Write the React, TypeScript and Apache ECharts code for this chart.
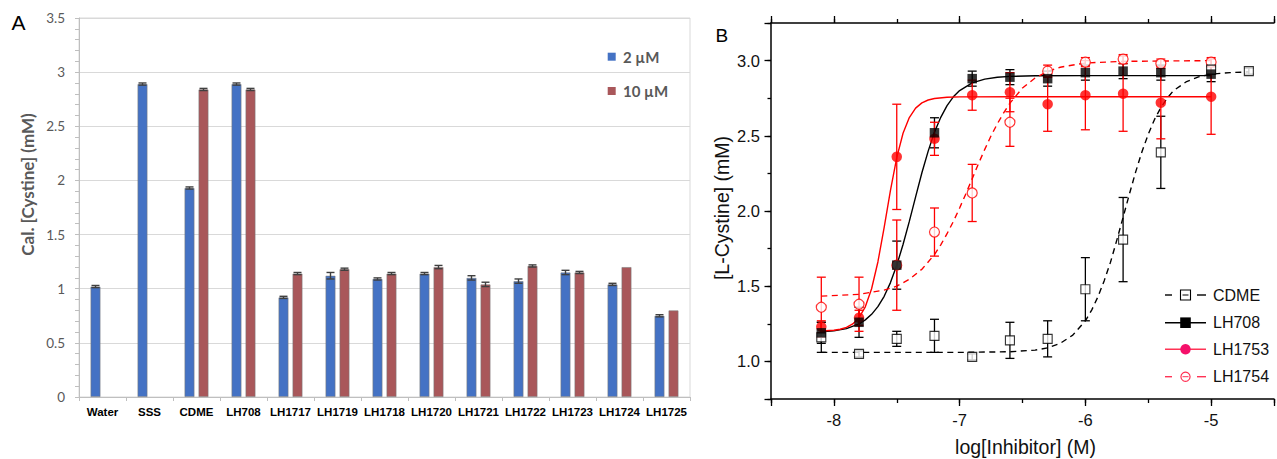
import React, { useEffect, useRef } from 'react';
import * as echarts from 'echarts';

// ---------- Panel A data ----------
const categories = ['Water', 'SSS', 'CDME', 'LH708', 'LH1717', 'LH1719', 'LH1718', 'LH1720', 'LH1721', 'LH1722', 'LH1723', 'LH1724', 'LH1725'];
const conc2uM = [1.02, 2.89, 1.93, 2.89, 0.92, 1.12, 1.09, 1.14, 1.10, 1.07, 1.15, 1.04, 0.75];
const err2uM = [0.01, 0.01, 0.01, 0.01, 0.01, 0.03, 0.01, 0.01, 0.02, 0.02, 0.02, 0.01, 0.01];
const conc10uM = [null, null, 2.84, 2.84, 1.14, 1.18, 1.14, 1.20, 1.04, 1.21, 1.15, 1.20, 0.80];
const err10uM = [null, null, 0.01, 0.01, 0.01, 0.01, 0.01, 0.015, 0.02, 0.01, 0.01, 0, 0];
const yTicksA = { min: 0, max: 3.5, step: 0.5 };

// ---------- Panel B data ----------
const logDose = [-8.1, -7.8, -7.5, -7.2, -6.9, -6.6, -6.3, -6.0, -5.7, -5.4, -5.0];
const cdmeDose = [-8.1, -7.8, -7.5, -7.2, -6.9, -6.6, -6.3, -6.0, -5.7, -5.4, -5.0, -4.7];
const cdmeMean = [1.16, 1.05, 1.15, 1.17, 1.03, 1.14, 1.15, 1.48, 1.81, 2.39, 2.94, 2.93];
const cdmeSd = [0.10, 0.02, 0.05, 0.11, 0.02, 0.12, 0.12, 0.21, 0.28, 0.24, 0.03, 0.02];
const lh708Mean = [1.19, 1.26, 1.64, 2.52, 2.88, 2.89, 2.88, 2.92, 2.93, 2.92, 2.91];
const lh708Sd = [0.07, 0.10, 0.16, 0.10, 0.05, 0.05, 0.05, 0.05, 0.05, 0.05, 0.05];
const lh1753Mean = [1.23, 1.29, 2.36, 2.48, 2.77, 2.79, 2.71, 2.77, 2.78, 2.72, 2.76];
const lh1753Sd = [0.04, 0.05, 0.35, 0.11, 0.10, 0.13, 0.18, 0.23, 0.25, 0.24, 0.25];
const lh1754Mean = [1.36, 1.38, 1.64, 1.86, 2.12, 2.59, 2.93, 2.99, 3.01, 2.98, 2.99];
const lh1754Sd = [0.20, 0.18, 0.30, 0.16, 0.19, 0.16, 0.04, 0.03, 0.03, 0.03, 0.03];

// fitted curves
const cdmeFitX = [-8.1, -7.5, -7.0, -6.6, -6.4, -6.3, -6.2, -6.1, -6.0, -5.95, -5.9, -5.85, -5.8, -5.75, -5.7, -5.65, -5.6, -5.55, -5.5, -5.45, -5.4, -5.35, -5.3, -5.2, -5.1, -5.0, -4.85, -4.7];
const cdmeFitY = [1.06, 1.06, 1.06, 1.064, 1.075, 1.09, 1.12, 1.175, 1.27, 1.341, 1.43, 1.537, 1.66, 1.806, 1.958, 2.112, 2.26, 2.394, 2.51, 2.609, 2.687, 2.749, 2.80, 2.858, 2.892, 2.91, 2.92, 2.925];
const lh708FitX = [-8.1, -8.0, -7.9, -7.8, -7.75, -7.7, -7.65, -7.6, -7.55, -7.5, -7.45, -7.4, -7.35, -7.3, -7.25, -7.2, -7.15, -7.1, -7.05, -7.0, -6.9, -6.8, -6.7, -6.6, -6.4, -6.0, -5.5, -5.0];
const lh708FitY = [1.196, 1.203, 1.218, 1.249, 1.276, 1.313, 1.364, 1.433, 1.524, 1.639, 1.777, 1.931, 2.094, 2.254, 2.398, 2.523, 2.623, 2.701, 2.759, 2.801, 2.852, 2.877, 2.889, 2.895, 2.899, 2.90, 2.90, 2.90];
const lh1753FitX = [-8.1, -8.0, -7.95, -7.9, -7.85, -7.8, -7.75, -7.7, -7.65, -7.6, -7.55, -7.5, -7.45, -7.4, -7.35, -7.3, -7.25, -7.2, -7.1, -7.0, -6.5, -5.0];
const lh1753FitY = [1.202, 1.207, 1.214, 1.226, 1.249, 1.291, 1.363, 1.483, 1.661, 1.891, 2.137, 2.355, 2.517, 2.621, 2.684, 2.719, 2.738, 2.748, 2.756, 2.759, 2.76, 2.76];
const lh1754FitX = [-8.1, -7.8, -7.6, -7.5, -7.4, -7.3, -7.2, -7.15, -7.1, -7.05, -7.0, -6.95, -6.9, -6.85, -6.8, -6.75, -6.7, -6.65, -6.6, -6.5, -6.4, -6.3, -6.2, -6.0, -5.7, -5.0];
const lh1754FitY = [1.434, 1.446, 1.474, 1.50, 1.546, 1.613, 1.71, 1.775, 1.849, 1.93, 2.02, 2.115, 2.215, 2.315, 2.41, 2.50, 2.58, 2.652, 2.717, 2.818, 2.884, 2.928, 2.956, 2.984, 2.995, 3.0];

const BLUE = '#4472C4';
const MAROON = '#A9575A';
const RED = '#FF0000';
const BLACK = '#000000';
const ARIAL = "'Liberation Sans', Arial, sans-serif";
const CAL = "Lato, 'Open Sans', sans-serif";

const zip = (xs: number[], ys: number[]) => xs.map((x, i) => [x, ys[i]]);
const zip3 = (xs: number[], ys: number[], es: number[]) => xs.map((x, i) => [x, ys[i], es[i]]);

function barErr(offset: number) {
  return (params: any, api: any) => {
    const c = api.value(0);
    const v = api.value(1);
    const e = api.value(2);
    if (!(e > 0)) return null;
    const hi = api.coord([c, v + e]);
    const lo = api.coord([c, v - e]);
    const x = hi[0] + offset;
    const st = { stroke: '#404040', lineWidth: 1.4, fill: 'none' };
    return {
      type: 'group',
      children: [
        { type: 'line', shape: { x1: x, y1: hi[1], x2: x, y2: lo[1] }, style: st },
        { type: 'line', shape: { x1: x - 4, y1: hi[1], x2: x + 4, y2: hi[1] }, style: st },
        { type: 'line', shape: { x1: x - 4, y1: lo[1], x2: x + 4, y2: lo[1] }, style: st },
      ],
    };
  };
}

function doseErr(color: string) {
  return (params: any, api: any) => {
    const x = api.value(0);
    const v = api.value(1);
    const e = api.value(2);
    const hi = api.coord([x, v + e]);
    const lo = api.coord([x, v - e]);
    const st = { stroke: color, lineWidth: 1.3, fill: 'none' };
    return {
      type: 'group',
      children: [
        { type: 'line', shape: { x1: hi[0], y1: hi[1], x2: lo[0], y2: lo[1] }, style: st },
        { type: 'line', shape: { x1: hi[0] - 4.5, y1: hi[1], x2: hi[0] + 4.5, y2: hi[1] }, style: st },
        { type: 'line', shape: { x1: lo[0] - 4.5, y1: lo[1], x2: lo[0] + 4.5, y2: lo[1] }, style: st },
      ],
    };
  };
}

const isInt = (v: number) => Math.abs(v - Math.round(v)) < 1e-6;
const isHalf = (v: number) => Math.abs(v * 2 - Math.round(v * 2)) < 1e-6;

function txt(text: string, x: number, y: number, font: any, extra: any = {}) {
  return {
    type: 'text',
    x,
    y,
    rotation: extra.rotation || 0,
    style: {
      text,
      fill: font.fill || '#000',
      fontSize: font.size,
      fontWeight: font.weight || 'normal',
      fontFamily: font.family,
      align: extra.align || 'left',
      textAlign: extra.align || 'left',
      verticalAlign: 'middle',
      textVerticalAlign: 'middle',
    },
  };
}

function buildOption() {
  const bAxisLine = { show: true, onZero: false, lineStyle: { color: BLACK, width: 1.5 } };
  const tickStyle = { color: BLACK, width: 1.3 };

  const legendB: any[] = [];
  const lx1 = 1165, lx2 = 1206, mx = 1185.5, tx = 1213;
  const rows = [295, 322.7, 349.3, 376.7];
  // CDME
  legendB.push({ type: 'line', shape: { x1: lx1, y1: rows[0], x2: lx1 + 7, y2: rows[0] }, style: { stroke: BLACK, lineWidth: 1.4 } });
  legendB.push({ type: 'line', shape: { x1: lx2 - 9, y1: rows[0], x2: lx2, y2: rows[0] }, style: { stroke: BLACK, lineWidth: 1.4 } });
  legendB.push({ type: 'rect', shape: { x: mx - 5, y: rows[0] - 5, width: 10, height: 10 }, style: { fill: '#fff', stroke: BLACK, lineWidth: 1.1 } });
  legendB.push({ type: 'line', shape: { x1: mx - 3, y1: rows[0], x2: mx + 3, y2: rows[0] }, style: { stroke: BLACK, lineWidth: 1 } });
  // LH708
  legendB.push({ type: 'line', shape: { x1: lx1, y1: rows[1], x2: lx2, y2: rows[1] }, style: { stroke: BLACK, lineWidth: 1.4 } });
  legendB.push({ type: 'rect', shape: { x: mx - 5.3, y: rows[1] - 5.3, width: 10.6, height: 10.6 }, style: { fill: BLACK } });
  // LH1753
  legendB.push({ type: 'line', shape: { x1: lx1, y1: rows[2], x2: lx2, y2: rows[2] }, style: { stroke: '#ff3355', lineWidth: 1.4 } });
  legendB.push({ type: 'circle', shape: { cx: mx, cy: rows[2], r: 5.2 }, style: { fill: '#f5106a' } });
  // LH1754
  legendB.push({ type: 'line', shape: { x1: lx1, y1: rows[3], x2: lx1 + 7, y2: rows[3] }, style: { stroke: '#ff3355', lineWidth: 1.4 } });
  legendB.push({ type: 'line', shape: { x1: lx2 - 9, y1: rows[3], x2: lx2, y2: rows[3] }, style: { stroke: '#ff3355', lineWidth: 1.4 } });
  legendB.push({ type: 'circle', shape: { cx: mx, cy: rows[3], r: 4.6 }, style: { fill: '#fff', stroke: '#ff3355', lineWidth: 1.2 } });
  legendB.push({ type: 'line', shape: { x1: mx - 3, y1: rows[3], x2: mx + 3, y2: rows[3] }, style: { stroke: '#ff3355', lineWidth: 1 } });
  const names = ['CDME', 'LH708', 'LH1753', 'LH1754'];
  names.forEach((n, i) => legendB.push(txt(n, tx, rows[i], { size: 16, family: ARIAL, fill: '#111' })));

  const graphic: any[] = [
    txt('A', 11.5, 22.5, { size: 21, family: ARIAL, fill: '#000' }),
    txt('B', 715.5, 35, { size: 19, family: ARIAL, fill: '#000' }),
    txt('Cal. [Cystine] (mM)', 27, 184.5, { size: 17, weight: 'bold', family: CAL, fill: '#595959' }, { rotation: Math.PI / 2, align: 'center' }),
    txt('[L-Cystine] (mM)', 722, 208, { size: 19.5, family: ARIAL, fill: '#111' }, { rotation: Math.PI / 2, align: 'center' }),
    txt('log[Inhibitor] (M)', 1025.5, 447, { size: 19.5, family: ARIAL, fill: '#111' }, { align: 'center' }),
    { type: 'rect', shape: { x: 607.7, y: 52.7, width: 8, height: 8 }, style: { fill: BLUE } },
    txt('2 µM', 623, 57, { size: 15, weight: 'bold', family: CAL, fill: '#595959' }),
    { type: 'rect', shape: { x: 607.7, y: 87, width: 8, height: 8 }, style: { fill: MAROON } },
    txt('10 µM', 623, 91, { size: 15, weight: 'bold', family: CAL, fill: '#595959' }),
    ...legendB,
  ];

  const bxBase = { type: 'value', gridIndex: 1, min: -8.5, max: -4.5, splitLine: { show: false } };
  const byBase = { type: 'value', gridIndex: 1, min: 0.75, max: 3.25, splitLine: { show: false } };
  const curve = (xs: number[], ys: number[], color: string, dashed: boolean) => ({
    type: 'line', xAxisIndex: 1, yAxisIndex: 1, data: zip(xs, ys), symbol: 'none', smooth: false,
    lineStyle: { color, width: 1.4, type: dashed ? [6, 4.5] : 'solid' }, z: 2,
  });
  const errSeries = (xs: number[], ys: number[], es: number[], color: string) => ({
    type: 'custom', xAxisIndex: 1, yAxisIndex: 1, z: 3, encode: { x: 0, y: 1 }, data: zip3(xs, ys, es), renderItem: doseErr(color),
  });

  return {
    animation: false,
    backgroundColor: '#fff',
    textStyle: { fontFamily: ARIAL },
    grid: [
      { left: 79, top: 18, width: 611, height: 379, show: true, borderColor: '#d9d9d9', borderWidth: 1, backgroundColor: 'transparent' },
      { left: 771, top: 23, width: 511, height: 376 },
    ],
    xAxis: [
      {
        type: 'category', gridIndex: 0, data: categories,
        axisLine: { show: true, lineStyle: { color: '#bfbfbf', width: 1 } },
        axisTick: { show: true, length: 4, lineStyle: { color: '#bfbfbf' } },
        axisLabel: { interval: 0, color: '#000', fontWeight: 'bold', fontSize: 11.5, fontFamily: ARIAL, margin: 9 },
        splitLine: { show: false },
      },
      { ...bxBase, position: 'bottom', interval: 0.5, axisLine: bAxisLine, axisTick: { show: true, length: 4, lineStyle: tickStyle }, axisLabel: { show: false } },
      {
        ...bxBase, position: 'bottom', splitNumber: 4, axisLine: { show: false, onZero: false },
        axisTick: { show: true, length: 7, lineStyle: tickStyle },
        axisLabel: { show: true, fontSize: 16.5, color: '#111', fontFamily: ARIAL, margin: 12, formatter: (v: number) => (isInt(v) ? String(Math.round(v)) : '') },
      },
      { ...bxBase, position: 'top', interval: 0.5, axisLine: bAxisLine, axisTick: { show: true, length: 4, lineStyle: tickStyle }, axisLabel: { show: false } },
      { ...bxBase, position: 'top', splitNumber: 4, axisLine: { show: false, onZero: false }, axisTick: { show: true, length: 7, lineStyle: tickStyle }, axisLabel: { show: false } },
    ],
    yAxis: [
      {
        type: 'value', gridIndex: 0, min: yTicksA.min, max: yTicksA.max, interval: yTicksA.step,
        axisLine: { show: true, lineStyle: { color: '#bfbfbf', width: 1 } },
        axisTick: { show: true, length: 4, lineStyle: { color: '#bfbfbf' } },
        minorTick: { show: true, splitNumber: 5, length: 4, lineStyle: { color: '#bfbfbf' } },
        splitLine: { show: true, lineStyle: { color: '#d9d9d9', width: 1 } },
        axisLabel: { color: '#595959', fontSize: 13.5, fontFamily: CAL, margin: 14, formatter: (v: number) => String(v) },
      },
      { ...byBase, position: 'left', interval: 0.25, axisLine: bAxisLine, axisTick: { show: true, length: 3.5, lineStyle: tickStyle }, axisLabel: { show: false } },
      {
        ...byBase, position: 'left', splitNumber: 5, axisLine: { show: false, onZero: false },
        axisTick: { show: true, length: 6.5, lineStyle: tickStyle },
        axisLabel: { show: true, fontSize: 16.5, color: '#111', fontFamily: ARIAL, margin: 11, formatter: (v: number) => (isHalf(v) && v > 0.8 && v < 3.2 ? v.toFixed(1) : '') },
      },
    ],
    graphic,
    series: [
      // Panel A
      {
        name: '2 µM', type: 'bar', xAxisIndex: 0, yAxisIndex: 0, data: conc2uM, barWidth: 10, barGap: '40%',
        itemStyle: { color: BLUE, borderColor: 'rgba(120,120,120,0.7)', borderWidth: 0.8 }, z: 2,
      },
      {
        name: '10 µM', type: 'bar', xAxisIndex: 0, yAxisIndex: 0, data: conc10uM, barWidth: 10, barGap: '40%',
        itemStyle: { color: MAROON, borderColor: 'rgba(120,120,120,0.7)', borderWidth: 0.8 }, z: 2,
      },
      {
        type: 'custom', xAxisIndex: 0, yAxisIndex: 0, z: 3, encode: { x: 0, y: 1 },
        data: conc2uM.map((v, i) => [i, v, err2uM[i]]),
        renderItem: barErr(-7),
      },
      {
        type: 'custom', xAxisIndex: 0, yAxisIndex: 0, z: 3, encode: { x: 0, y: 1 },
        data: conc10uM.map((v, i) => [i, v, err10uM[i]]).filter((d) => d[1] != null),
        renderItem: barErr(7),
      },
      // Panel B curves
      curve(cdmeFitX, cdmeFitY, BLACK, true),
      curve(lh708FitX, lh708FitY, BLACK, false),
      curve(lh1753FitX, lh1753FitY, RED, false),
      curve(lh1754FitX, lh1754FitY, RED, true),
      // Panel B error bars
      errSeries(cdmeDose, cdmeMean, cdmeSd, BLACK),
      errSeries(logDose, lh708Mean, lh708Sd, BLACK),
      errSeries(logDose, lh1753Mean, lh1753Sd, RED),
      errSeries(logDose, lh1754Mean, lh1754Sd, RED),
      // Panel B markers
      { name: 'LH1754', type: 'scatter', xAxisIndex: 1, yAxisIndex: 1, data: zip(logDose, lh1754Mean), symbol: 'circle', symbolSize: 10, itemStyle: { color: '#fff', borderColor: RED, borderWidth: 1.2 }, z: 4 },
      { name: 'LH1753', type: 'scatter', xAxisIndex: 1, yAxisIndex: 1, data: zip(logDose, lh1753Mean), symbol: 'circle', symbolSize: 10.5, itemStyle: { color: RED }, z: 4 },
      { name: 'CDME', type: 'scatter', xAxisIndex: 1, yAxisIndex: 1, data: zip(cdmeDose, cdmeMean), symbol: 'rect', symbolSize: 9, itemStyle: { color: '#fff', borderColor: BLACK, borderWidth: 1.1 }, z: 4 },
      { name: 'LH708', type: 'scatter', xAxisIndex: 1, yAxisIndex: 1, data: zip(logDose, lh708Mean), symbol: 'rect', symbolSize: 9.5, itemStyle: { color: BLACK }, z: 5 },
    ],
  };
}

export default function App() {
  const ref = useRef<HTMLDivElement>(null);
  useEffect(() => {
    if (!ref.current) return;
    const chart = echarts.init(ref.current, null, { renderer: 'svg' });
    chart.setOption(buildOption() as any);
    return () => chart.dispose();
  }, []);
  return (
    <div
      ref={ref}
      style={{ position: 'fixed', left: 0, top: 0, width: 1277, height: 459, background: '#fff' }}
    />
  );
}
